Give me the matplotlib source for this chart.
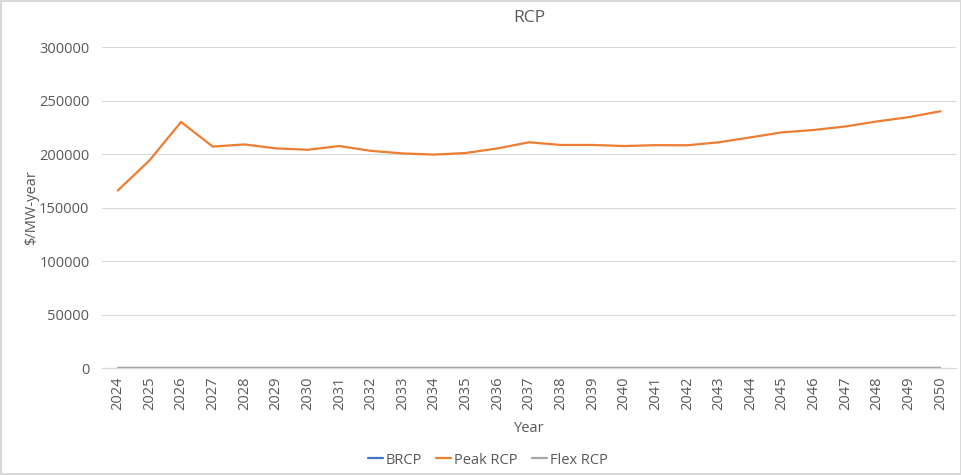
import matplotlib.pyplot as plt

# years on the category axis
years = list(range(2024, 2051))

# $/MW-year values
peak_rcp = [166000, 194000, 230000, 207000, 209000, 205300, 204000, 207500, 203000,
            200600, 199500, 201000, 205300, 211000, 208500, 208500, 207500, 208300,
            208200, 211000, 215600, 220300, 222500, 225800, 230500, 234500, 240000]
brcp = [0] * len(years)
flex_rcp = [0] * len(years)

plt.rcParams['font.family'] = ['Open Sans', 'DejaVu Sans']
txt = '#595959'

fig = plt.figure(figsize=(9.62, 4.75), dpi=100)
fig.patch.set_edgecolor('#D9D9D9')
fig.patch.set_linewidth(1.5)
ax = fig.add_axes([0.106, 0.225, 0.888, 0.676])

x = list(range(len(years)))
ax.plot(x, brcp, color='#4472C4', lw=1.6, label='BRCP', solid_capstyle='round')
ax.plot(x, peak_rcp, color='#ED7D31', lw=1.6, label='Peak RCP', solid_capstyle='round')
ax.plot(x, flex_rcp, color='#A5A5A5', lw=1.6, label='Flex RCP', solid_capstyle='round')

ax.set_xlim(-0.5, len(years) - 0.5)
ax.set_ylim(0, 300000)
ax.set_yticks(range(0, 300001, 50000))
ax.set_xticks(x)
ax.set_xticklabels([str(y) for y in years], rotation=90)
ax.tick_params(axis='both', length=0, colors=txt, labelsize=10.5)
ax.tick_params(axis='y', pad=9)
ax.tick_params(axis='x', pad=6)
ax.grid(axis='y', color='#D9D9D9', lw=0.8)
ax.set_axisbelow(True)
for s in ['top', 'right', 'left']:
    ax.spines[s].set_visible(False)
ax.spines['bottom'].set_color('#D9D9D9')

ax.set_title('RCP', color=txt, fontsize=12.5, pad=18)
ax.set_ylabel(r'\$/MW-year', color=txt, fontsize=10.5, labelpad=0)
ax.set_xlabel('Year', color=txt, fontsize=10.5, labelpad=8)

fig.legend(loc='lower center', bbox_to_anchor=(0.507, -0.012), ncol=3, frameon=False,
           fontsize=10.5, labelcolor=txt, handlelength=1.0, handletextpad=0.2,
           columnspacing=1.0)

fig.savefig('out.png', dpi=100)
